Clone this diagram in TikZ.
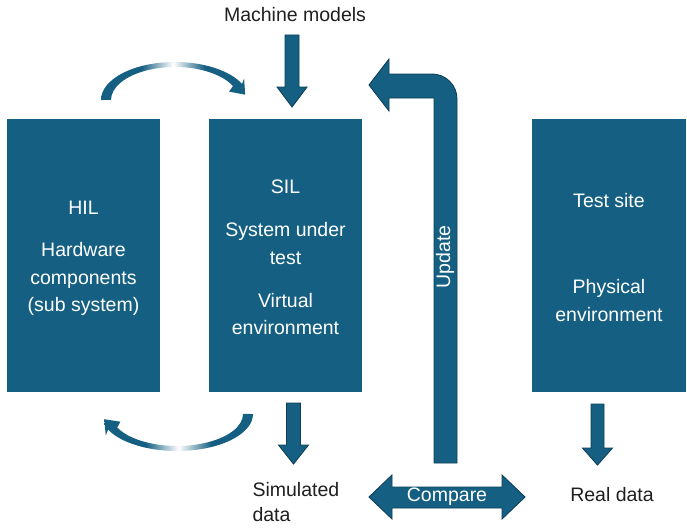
\documentclass[tikz,border=0pt]{standalone}
\usepackage{fontspec}
\setmainfont{Liberation Sans}
\definecolor{teal1}{HTML}{156082}
\definecolor{tealdark}{HTML}{0E3F58}
\definecolor{txt}{HTML}{1F1F1F}
\pgfdeclarehorizontalshading{curvefade}{100bp}{color(0bp)=(teal1); color(25bp)=(teal1); color(39bp)=(teal1); color(50bp)=(white); color(61bp)=(teal1); color(75bp)=(teal1); color(100bp)=(teal1)}
\begin{document}
\begin{tikzpicture}[x=1pt,y=-1pt,
  box/.style={fill=teal1, draw=none, minimum width=153pt, minimum height=273pt, inner sep=0pt, anchor=north west},
  boxtext/.style={text=white, align=center, font=\fontsize{19.5}{27.5}\selectfont},
  plain/.style={text=txt, font=\fontsize{19.5}{25}\selectfont},
  arrowtext/.style={text=white, font=\fontsize{19.5}{25}\selectfont},
  blockarrow/.style={fill=teal1, draw=tealdark, line width=0.9pt, line join=miter},
  curvearrow/.style={shade, shading=curvefade, draw=none}]
\useasboundingbox (0,0) rectangle (687,527);

% boxes
\node[box] (hil) at (7,119) {};
\node[box] (sil) at (209,119) {};
\node[box, minimum width=154pt] (site) at (532,119) {};

\node[boxtext] (hilt) at (83.5,258.5) {HIL\\[14.5pt]Hardware\\components\\(sub system)};
\node[boxtext] (silt) at (285.5,257.5) {SIL\\[15.5pt]System under\\test\\[15.5pt]Virtual\\environment};
\node[boxtext] (sitet) at (609,257.5) {Test site\\[58.5pt]Physical\\environment};

% plain labels
\node[plain] (mm) at (295,15) {Machine models};
\node[plain, align=left, anchor=west] (sim) at (249,502.5) {Simulated\\data};
\node[plain] (real) at (612,495) {Real data};

% down block arrows
\draw[blockarrow] (285,35) -- (299,35) -- (299,87) -- (307,87) -- (292,107) -- (277,87) -- (285,87) -- cycle;
\draw[blockarrow] (286.5,403) -- (300.5,403) -- (300.5,445) -- (308.5,445) -- (293.5,464) -- (278.5,445) -- (286.5,445) -- cycle;
\draw[blockarrow] (591,404) -- (604,404) -- (604,448) -- (612.5,448) -- (597.5,465) -- (582.5,448) -- (591,448) -- cycle;

% compare double arrow
\draw[blockarrow] (369,497) -- (392,475) -- (392,487) -- (502,487) -- (502,475) -- (525,497) -- (502,519) -- (502,508) -- (392,508) -- (392,519) -- cycle;
\node[arrowtext] (cmp) at (447,497) {Compare};

% update bent arrow
\draw[blockarrow] (434,463) -- (457,463) -- (457,99) .. controls (457,85.2) and (445.8,74) .. (432,74) -- (389,74) -- (389,59) -- (369,85) -- (389,111) -- (389,98) -- (434,98) -- cycle;
\node[arrowtext, rotate=90] (upd) at (445,257) {Update};

% curved arrows
\path[curvearrow] (101,100) arc[start angle=180, end angle=335, x radius=74, y radius=38]
  -- (244.1,78.4) -- (245.2,94.7) -- (229.1,91.6) -- (233,86.05)
  arc[start angle=335, end angle=180, x radius=64, y radius=33] -- cycle;
\path[curvearrow] (253,414) arc[start angle=0, end angle=155, x radius=76, y radius=37]
  -- (105.8,435.5) -- (104.2,419.2) -- (120.4,421.7) -- (117.2,427.5)
  arc[start angle=155, end angle=0, x radius=66, y radius=32] -- cycle;
\end{tikzpicture}
\end{document}
